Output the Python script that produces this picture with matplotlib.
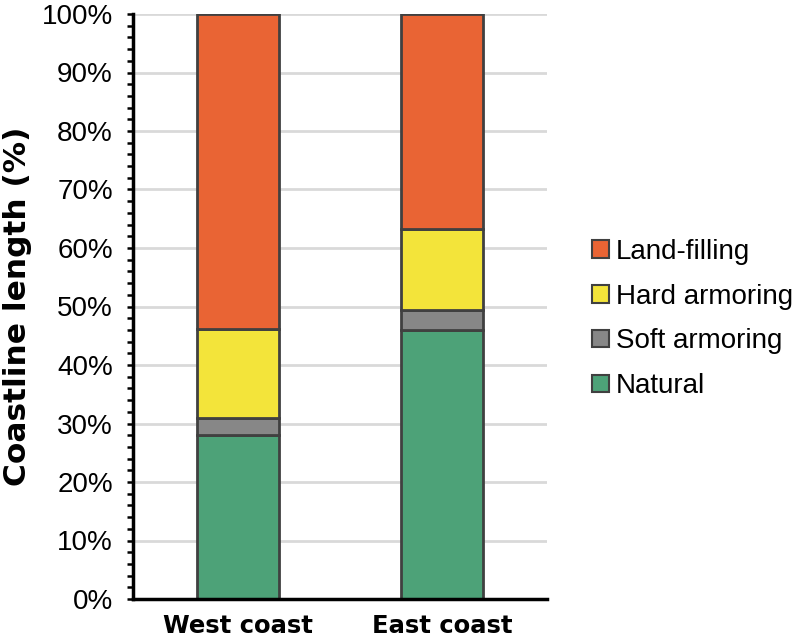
import matplotlib.pyplot as plt
import matplotlib.ticker as tck

plt.rcParams['font.family'] = ['Liberation Sans', 'DejaVu Sans']

coasts = ["West coast", "East coast"]
natural = [28.0, 46.0]
soft_armoring = [3.0, 3.4]
hard_armoring = [15.2, 13.8]
land_filling = [53.8, 36.8]

series = [
    ("Natural", natural, "#4DA278"),
    ("Soft armoring", soft_armoring, "#878787"),
    ("Hard armoring", hard_armoring, "#F3E43A"),
    ("Land-filling", land_filling, "#E96434"),
]

fig = plt.figure(figsize=(7.97, 6.38), dpi=100)
ax = fig.add_axes([133 / 797, 39 / 638, 414 / 797, 585 / 638])

x = list(range(len(coasts)))
bottom = [0.0] * len(coasts)
for name, vals, color in series:
    ax.bar(x, vals, bottom=bottom, width=0.4, color=color, edgecolor="#404040",
           linewidth=2, label=name, zorder=3)
    bottom = [b + v for b, v in zip(bottom, vals)]

ax.set_xlim(-0.51, 1.51)
ax.set_ylim(0, 100)
ax.set_xticks(x)
ax.set_xticklabels(coasts, fontsize=17.5, fontweight="bold", family="DejaVu Sans")
ax.tick_params(axis="x", length=0, pad=11)

ax.yaxis.set_major_locator(tck.MultipleLocator(10))
ax.yaxis.set_minor_locator(tck.MultipleLocator(2))
ax.yaxis.set_major_formatter(tck.FuncFormatter(lambda v, p: f"{v:.0f}%"))
ax.tick_params(axis="y", which="both", direction="out", length=4.5, width=1.8,
               labelsize=20, pad=10)

ax.grid(axis="y", which="major", color="#D9D9D9", linewidth=2, zorder=0)
for s in ["top", "right"]:
    ax.spines[s].set_visible(False)
ax.spines["left"].set_linewidth(2.5)
ax.spines["bottom"].set_linewidth(2.5)
ax.spines["left"].set_zorder(4)
ax.spines["bottom"].set_zorder(4)

ax.set_ylabel("Coastline length (%)", fontsize=22.5, fontweight="bold",
              family="DejaVu Sans")
ax.yaxis.set_label_coords(-101 / 414, 0.5)

handles, labels = ax.get_legend_handles_labels()
leg = fig.legend(handles[::-1], labels[::-1], loc="center left",
                 bbox_to_anchor=(592 / 797, 1 - 319 / 638), frameon=False,
                 fontsize=20, handlelength=0.6, handleheight=0.6,
                 handletextpad=0.25, labelspacing=0.68, borderpad=0,
                 borderaxespad=0)
for h in leg.legend_handles:
    h.set_linewidth(1.5)

fig.savefig("out.png", dpi=100)
